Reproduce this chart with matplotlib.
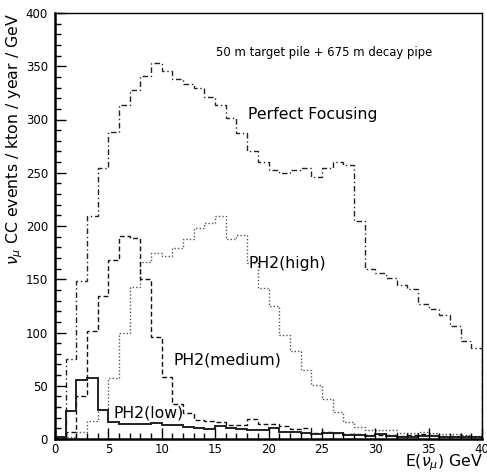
import numpy as np
import matplotlib
matplotlib.use("Agg")
import matplotlib.pyplot as plt
from matplotlib.ticker import MultipleLocator

# Energy bin edges (GeV), 1 GeV bins from 0 to 40
edges = np.arange(0, 41, 1)

perfect_focusing = [3, 75, 148, 209, 254, 288, 314, 328, 341, 353,
                    346, 338, 333, 330, 321, 314, 301, 287, 270, 260,
                    253, 250, 253, 254, 246, 254, 260, 257, 205, 160,
                    156, 151, 145, 141, 127, 122, 116, 106, 92, 85]

ph2_high = [0, 2, 7, 17, 27, 57, 100, 143, 166, 175,
            172, 179, 188, 198, 203, 209, 188, 192, 165, 142,
            125, 98, 83, 65, 51, 38, 25, 16, 11, 8,
            8, 8, 6, 6, 7, 6, 5, 5, 4, 3]

ph2_medium = [1, 7, 40, 101, 134, 168, 191, 189, 150, 96,
              58, 33, 24, 18, 17, 16, 13, 13, 19, 14,
              14, 12, 9, 10, 6, 7, 6, 5, 5, 4,
              4, 4, 3, 4, 5, 4, 3, 3, 3, 2]

ph2_low = [2, 26, 55, 57, 27, 16, 14, 14, 14, 15,
           13, 13, 11, 10, 9, 12, 10, 9, 8, 8,
           10, 7, 7, 6, 5, 6, 6, 4, 4, 3,
           5, 3, 2, 2, 3, 3, 2, 2, 2, 2]

x_ticks = [0, 5, 10, 15, 20, 25, 30, 35, 40]
y_ticks = [0, 50, 100, 150, 200, 250, 300, 350, 400]

plt.rcParams['font.family'] = ['DejaVu Sans']

fig = plt.figure(figsize=(4.87, 4.74), dpi=100)
ax = fig.add_axes([55/487, 1-439/474, 427/487, 426/474])

ax.stairs(perfect_focusing, edges, color='#222222', lw=1.0, linestyle=(0, (4, 2, 1, 2)))
ax.stairs(ph2_high, edges, color='#555555', lw=1.0, linestyle=(0, (1, 1.5)))
ax.stairs(ph2_medium, edges, color='#111111', lw=1.0, linestyle=(0, (3.5, 2)))
ax.stairs(ph2_low, edges, color='#222222', lw=1.4, linestyle='-')

ax.set_xlim(0, 40)
ax.set_ylim(0, 400)
ax.set_xticks(x_ticks)
ax.set_yticks(y_ticks)
ax.set_xticklabels([str(t) for t in x_ticks])
ax.set_yticklabels([str(t) for t in y_ticks])
ax.xaxis.set_minor_locator(MultipleLocator(1))
ax.yaxis.set_minor_locator(MultipleLocator(10))
ax.tick_params(which='major', direction='in', length=8, width=1.0, labelsize=8.5, pad=5,
               top=False, right=False)
ax.tick_params(axis='x', which='major', pad=3)
ax.tick_params(which='minor', direction='in', length=4, width=1.0, top=False, right=False)

for side, w in [('left', 1.8), ('bottom', 1.8), ('top', 1.0), ('right', 1.0)]:
    ax.spines[side].set_linewidth(w)

ax.text(15.1, 363, '50 m target pile + 675 m decay pipe', fontsize=8.4,
        ha='left', va='center')
ax.text(18.1, 305, 'Perfect Focusing', fontsize=11.3, ha='left', va='center')
ax.text(18.1, 165, 'PH2(high)', fontsize=11.3, ha='left', va='center')
ax.text(11.1, 74, 'PH2(medium)', fontsize=11.3, ha='left', va='center')
ax.text(5.5, 24, 'PH2(low)', fontsize=11.3, ha='left', va='center')

fig.text(15/487, 1-13/474, r'$\nu_\mu$ CC events / kton / year / GeV', rotation=90,
         ha='center', va='top', fontsize=11.3)
fig.text(483/487, 1-473/474, r'E($\nu_\mu$) GeV', ha='right', va='bottom', fontsize=11.3)

fig.savefig('out.png', dpi=100)
